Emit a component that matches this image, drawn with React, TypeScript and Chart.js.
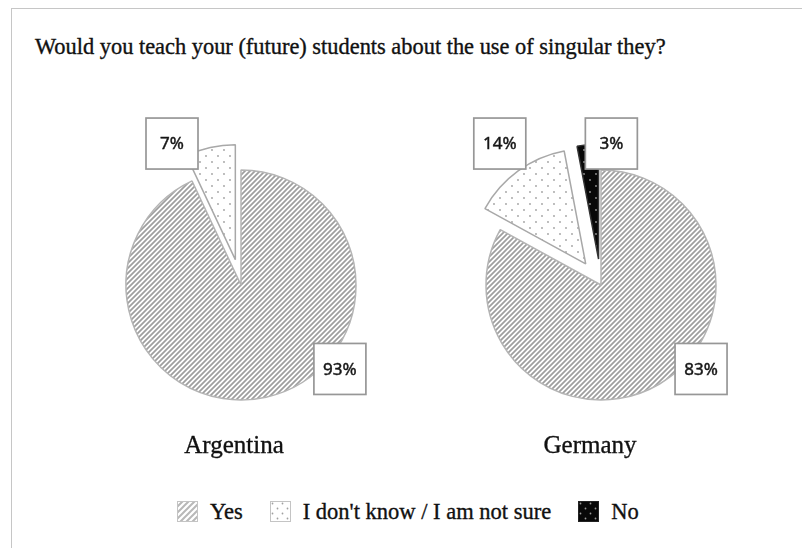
import React, { useEffect, useRef } from "react";
import { Chart, registerables } from "chart.js";

Chart.register(...registerables);

// ---------- data ----------
const TITLE = "Would you teach your (future) students about the use of singular they?";
const CATEGORIES = ["Yes", "I don't know / I am not sure", "No"];
const COUNTRIES = ["Argentina", "Germany"];
const ARGENTINA_VALUES = [93, 7, 0];
const GERMANY_VALUES = [83, 14, 3];

// ---------- style / layout config ----------
const PATTERN_KINDS = ["hatch", "dots", "darkdots"];
const BORDER_COLORS = ["#b4b4b4", "#a8a8a8", "#333333"];
const PIE_RADIUS = 115;
const EXPLODE = [0, 26, 26];
// label box centres, in units of the pie radius, relative to the pie centre
const LABEL_OFFSETS: Record<string, number[][]> = {
  Argentina: [[0.86, 0.73], [-0.6, -1.23], [0, 0]],
  Germany: [[0.87, 0.73], [-0.88, -1.23], [0.09, -1.23]],
};
const SERIF = '"Liberation Serif", "Times New Roman", serif';
const SANS = '"Noto Sans", "Open Sans", sans-serif';
const TEXT_COLOR = "#111111";
const TEXT_STROKE = "0.35px #111111";

function makePattern(ctx: CanvasRenderingContext2D, kind: string, legend = false): CanvasPattern | string {
  const tile = document.createElement("canvas");
  let size = 5;
  if (kind === "hatch") size = legend ? 6 : 5;
  else size = legend ? 10 : 12;
  tile.width = size;
  tile.height = size;
  const g = tile.getContext("2d")!;
  if (kind === "hatch") {
    g.fillStyle = "#ffffff";
    g.fillRect(0, 0, size, size);
    g.strokeStyle = legend ? "#b8b8b8" : "#9e9e9e";
    g.lineWidth = legend ? 2 : 1.75;
    g.beginPath();
    g.moveTo(-1, size + 1);
    g.lineTo(size + 1, -1);
    g.moveTo(-2, 2);
    g.lineTo(2, -2);
    g.moveTo(size - 2, size + 2);
    g.lineTo(size + 2, size - 2);
    g.stroke();
  } else {
    const dark = kind === "darkdots";
    g.fillStyle = dark ? "#080808" : "#ffffff";
    g.fillRect(0, 0, size, size);
    g.fillStyle = dark ? "#9a9a9a" : "#a0a0a0";
    const q = size / 4;
    for (const [x, y] of [[q, q], [3 * q, 3 * q]]) {
      g.beginPath();
      g.arc(x, y, 0.9, 0, Math.PI * 2);
      g.fill();
    }
  }
  return ctx.createPattern(tile, "repeat") || "#ccc";
}

const explodePlugin = {
  id: "explode",
  afterDatasetUpdate(chart: any, args: any, opts: any) {
    const dist: number[] = opts.distances || [];
    const meta = chart.getDatasetMeta(args.index);
    meta.data.forEach((arc: any, i: number) => {
      const d = dist[i] || 0;
      if (!d) return;
      const mid = (arc.startAngle + arc.endAngle) / 2;
      arc.x += Math.cos(mid) * d;
      arc.y += Math.sin(mid) * d;
    });
  },
};

const boxLabelPlugin = {
  id: "boxLabels",
  afterDatasetsDraw(chart: any, _args: any, opts: any) {
    const ctx: CanvasRenderingContext2D = chart.ctx;
    const area = chart.chartArea;
    const cx = (area.left + area.right) / 2;
    const cy = (area.top + area.bottom) / 2;
    const offsets: number[][] = opts.offsets || [];
    const values: number[] = chart.data.datasets[0].data;
    const w = 52;
    const h = 51;
    ctx.save();
    values.forEach((v, i) => {
      const o = offsets[i];
      if (!o) return;
      const x = cx + o[0] * PIE_RADIUS;
      const y = cy + o[1] * PIE_RADIUS;
      ctx.fillStyle = "#ffffff";
      ctx.fillRect(x - w / 2, y - h / 2, w, h);
      ctx.strokeStyle = "#979797";
      ctx.lineWidth = 1.7;
      ctx.strokeRect(x - w / 2, y - h / 2, w, h);
      ctx.fillStyle = "#161616";
      ctx.strokeStyle = "#161616";
      ctx.lineWidth = 0.45;
      ctx.font = `17px ${SANS}`;
      ctx.textAlign = "center";
      ctx.textBaseline = "middle";
      ctx.fillText(`${v}%`, x, y + 1);
      ctx.strokeText(`${v}%`, x, y + 1);
    });
    ctx.restore();
  },
};

function PieChart({ country, values, left, top }: { country: string; values: number[]; left: number; top: number }) {
  const ref = useRef<HTMLCanvasElement>(null);
  useEffect(() => {
    const canvas = ref.current!;
    const ctx = canvas.getContext("2d")!;
    const idx = values.map((_, i) => i).filter((i) => values[i] > 0);
    const chart = new Chart(canvas, {
      type: "pie",
      data: {
        labels: idx.map((i) => CATEGORIES[i]),
        datasets: [
          {
            data: idx.map((i) => values[i]),
            backgroundColor: idx.map((i) => makePattern(ctx, PATTERN_KINDS[i])),
            borderColor: idx.map((i) => BORDER_COLORS[i]),
            borderWidth: 1.5,
            radius: PIE_RADIUS,
          } as any,
        ],
      },
      options: {
        responsive: false,
        animation: false,
        events: [],
        layout: { padding: 0 },
        plugins: {
          legend: { display: false },
          tooltip: { enabled: false },
          title: { display: false },
          explode: { distances: idx.map((i) => EXPLODE[i]) },
          boxLabels: { offsets: idx.map((i) => LABEL_OFFSETS[country][i]) },
        } as any,
      },
      plugins: [explodePlugin, boxLabelPlugin],
    });
    return () => chart.destroy();
  }, [country, values]);
  return (
    <canvas
      ref={ref}
      width={340}
      height={360}
      style={{ position: "absolute", left, top, width: 340, height: 360 }}
    />
  );
}

function Swatch({ kind }: { kind: string }) {
  const ref = useRef<HTMLCanvasElement>(null);
  useEffect(() => {
    const c = ref.current!;
    const g = c.getContext("2d")!;
    g.clearRect(0, 0, 21, 21);
    g.fillStyle = makePattern(g, kind, true);
    g.fillRect(0.5, 0.5, 20, 20);
    g.strokeStyle = kind === "darkdots" ? "#222" : "#c4c4c4";
    g.lineWidth = 1;
    g.strokeRect(0.5, 0.5, 20, 20);
  }, [kind]);
  return <canvas ref={ref} width={21} height={21} style={{ display: "block", flex: "0 0 auto" }} />;
}

export default function App() {
  const countryValues = [ARGENTINA_VALUES, GERMANY_VALUES];
  const pieLeft = [71, 431];
  const labelCenter = [234, 590];
  const textStyle = { color: TEXT_COLOR, WebkitTextStroke: TEXT_STROKE } as React.CSSProperties;
  return (
    <div
      style={{
        position: "absolute",
        left: 0,
        top: 0,
        width: 802,
        height: 548,
        overflow: "hidden",
        background: "#ffffff",
      }}
    >
      <div
        style={{
          position: "absolute",
          left: 11,
          top: 8,
          width: 900,
          height: 700,
          borderTop: "1px solid #c6c6c6",
          borderLeft: "1px solid #c6c6c6",
        }}
      />
      <div
        style={{
          position: "absolute",
          left: 35,
          top: 36,
          font: `22.4px ${SERIF}`,
          lineHeight: "22.4px",
          whiteSpace: "nowrap",
          ...textStyle,
        }}
      >
        {TITLE}
      </div>
      {COUNTRIES.map((c, k) => (
        <React.Fragment key={c}>
          <PieChart country={c} values={countryValues[k]} left={pieLeft[k]} top={105} />
          <div
            style={{
              position: "absolute",
              left: labelCenter[k] - 100,
              width: 200,
              top: 432,
              textAlign: "center",
              font: `25px ${SERIF}`,
              lineHeight: "25px",
              ...textStyle,
            }}
          >
            {c}
          </div>
        </React.Fragment>
      ))}
      <div
        style={{
          position: "absolute",
          left: 177,
          top: 501,
          height: 21,
          display: "flex",
          alignItems: "center",
          whiteSpace: "nowrap",
        }}
      >
        {CATEGORIES.map((cat, i) => (
          <div key={cat} style={{ display: "flex", alignItems: "center", marginRight: 27 }}>
            <Swatch kind={PATTERN_KINDS[i]} />
            <span
              style={{
                marginLeft: 12,
                font: `22.5px ${SERIF}`,
                lineHeight: "21px",
                ...textStyle,
              }}
            >
              {cat}
            </span>
          </div>
        ))}
      </div>
    </div>
  );
}
